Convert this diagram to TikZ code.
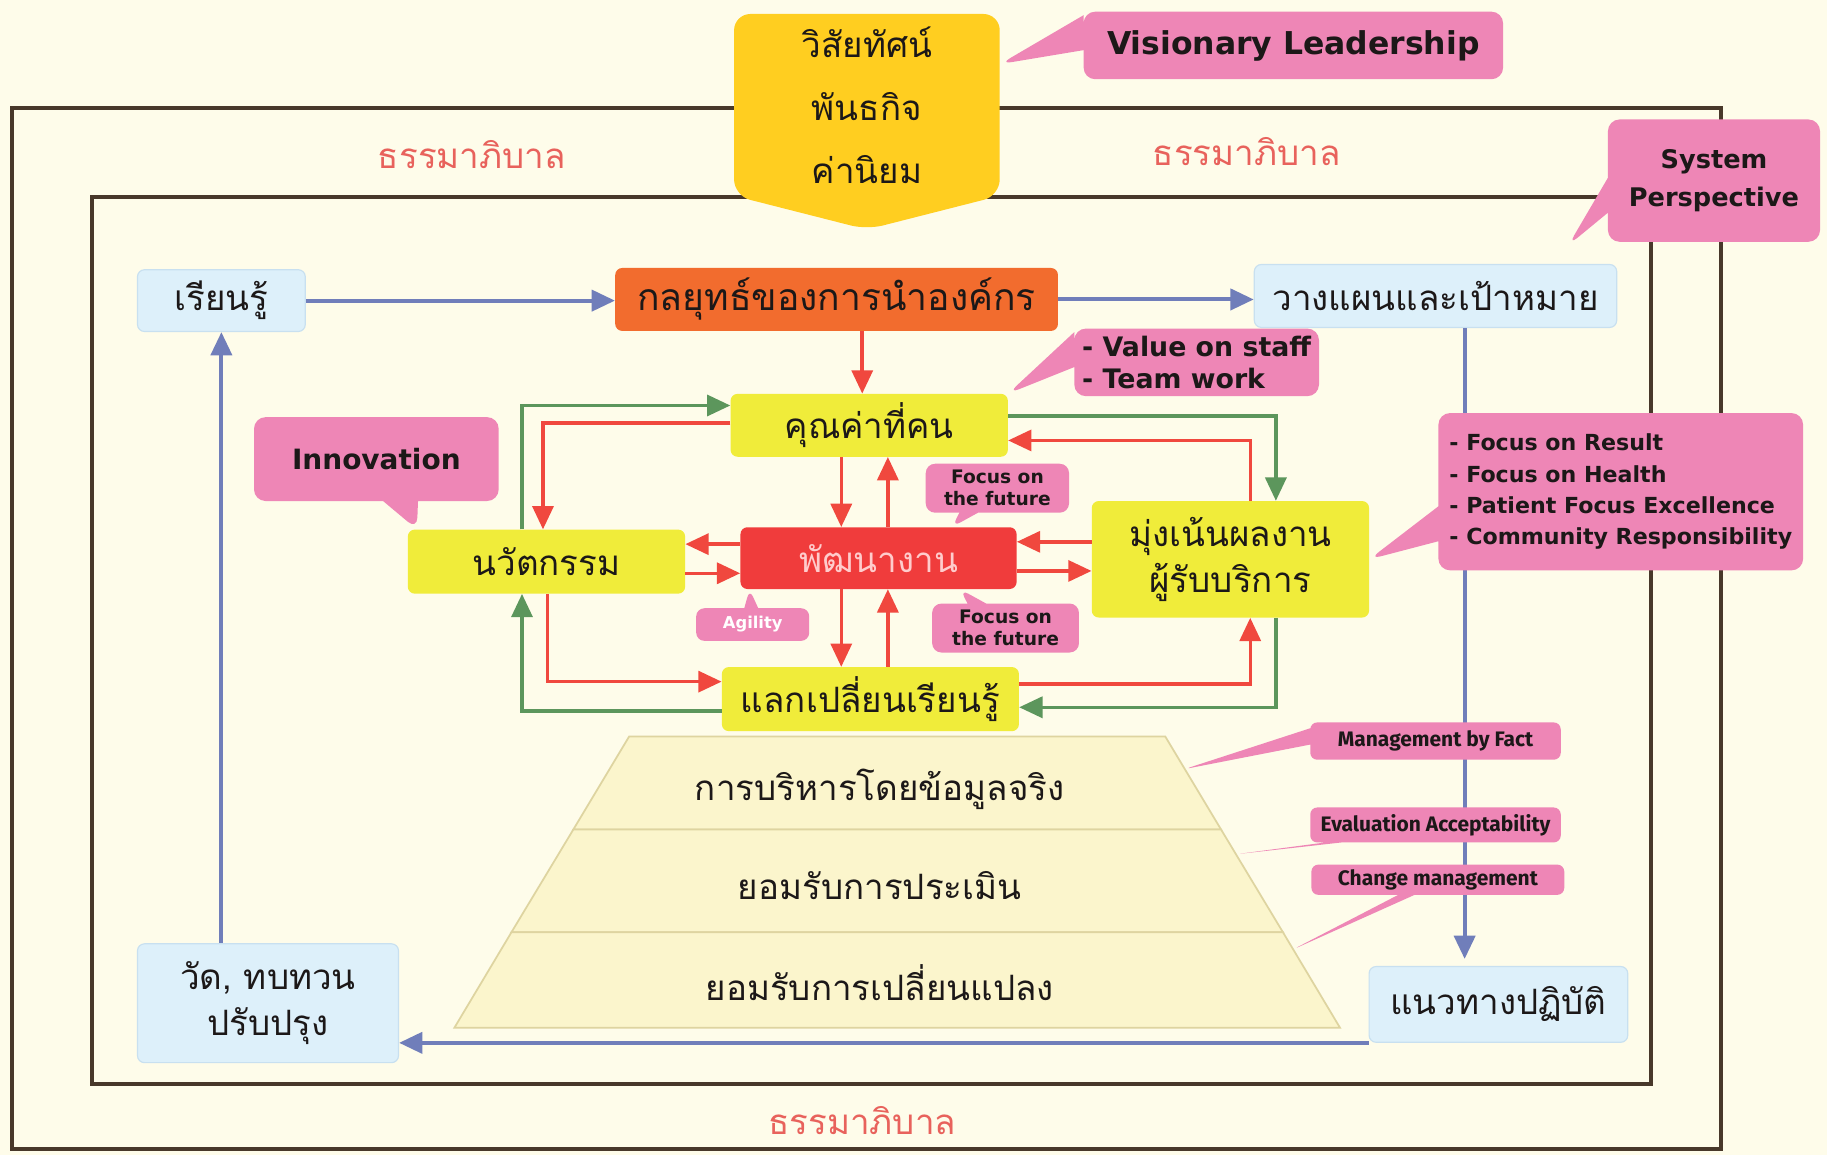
\documentclass[tikz,border=0pt]{standalone}
\usepackage{fontspec}
\setmainfont{Fira Sans}
\newfontfamily\thaifont[Script=Thai]{Loma}
\newfontfamily\notefont{DejaVu Sans}
\usetikzlibrary{arrows.meta,positioning,calc,shapes.callouts}
\definecolor{Cream}{RGB}{254,252,234}
\definecolor{FrameBrown}{RGB}{72,56,42}
\definecolor{GovRed}{RGB}{232,98,92}
\definecolor{Gold}{RGB}{255,206,32}
\definecolor{NotePink}{RGB}{238,134,182}
\definecolor{SkyFill}{RGB}{221,240,250}
\definecolor{SkyEdge}{RGB}{200,224,240}
\definecolor{StratOrange}{RGB}{242,108,46}
\definecolor{BoxYellow}{RGB}{240,236,58}
\definecolor{DevRed}{RGB}{240,60,60}
\definecolor{FlowBlue}{RGB}{112,126,186}
\definecolor{LoopGreen}{RGB}{92,150,92}
\definecolor{LoopRed}{RGB}{240,72,62}
\definecolor{PyrFill}{RGB}{251,245,204}
\definecolor{PyrEdge}{RGB}{222,212,160}
\definecolor{Ink}{RGB}{28,24,24}

\begin{document}
\begin{tikzpicture}[
  x=1pt, y=-1pt,
  thaibox/.style={rectangle, rounded corners=6pt, align=center, inner sep=0pt, text=Ink, font=\thaifont\fontsize{30}{40}\selectfont},
  skybox/.style={thaibox, fill=SkyFill, draw=SkyEdge, line width=1pt},
  yellowbox/.style={thaibox, fill=BoxYellow},
  pinknote/.style={rectangle callout, rounded corners=10pt, fill=NotePink, align=center, inner sep=0pt, text=Ink, callout pointer width=30pt},
  govtext/.style={text=GovRed, font=\thaifont\fontsize{30}{32}\selectfont},
  pyrtext/.style={text=Ink, font=\thaifont\fontsize{30}{36}\selectfont},
  frameline/.style={draw=FrameBrown, line width=3.5pt},
  bluearrow/.style={-{Triangle[length=20pt,width=18pt]}, line width=3.5pt, draw=FlowBlue},
  greenarrow/.style={-{Triangle[length=20pt,width=18pt]}, line width=3pt, draw=LoopGreen},
  redarrow/.style={-{Triangle[length=20pt,width=18pt]}, line width=3pt, draw=LoopRed},
]
\useasboundingbox (0,0) rectangle (1568,991);
\fill[Cream] (0,0) rectangle (1568,991);

% frames
\draw[frameline] (10,93) rectangle (1477,986);
\draw[frameline] (79,169) rectangle (1417,930);
\node[govtext] (gov1) at (405,133) {ธรรมาภิบาล};
\node[govtext] (gov2) at (1070,130) {ธรรมาภิบาล};
\node[govtext] (gov3) at (740,962) {ธรรมาภิบาล};

% vision
\fill[Gold, rounded corners=14pt] (630,12) -- (858,12) -- (858,168) -- (744,197) -- (630,168) -- cycle;
\node[align=center, text=Ink, minimum width=228pt, minimum height=156pt, font=\thaifont\fontsize{30}{54}\selectfont] (vision) at (744,90) {วิสัยทัศน์\\พันธกิจ\\ค่านิยม};

% main boxes
\node[skybox, minimum width=144pt, minimum height=53pt] (learn) at (190,258) {เรียนรู้};
\node[thaibox, fill=StratOrange, font=\thaifont\fontsize{32}{40}\selectfont, minimum width=380pt, minimum height=54pt] (strat) at (718,257) {กลยุทธ์ของการนำองค์กร};
\node[skybox, minimum width=311pt, minimum height=54pt] (plan) at (1232,254) {วางแผนและเป้าหมาย};
\node[yellowbox, minimum width=238pt, minimum height=54pt] (value) at (746,365) {คุณค่าที่คน};
\node[yellowbox, minimum width=238pt, minimum height=55pt] (innov) at (469,482) {นวัตกรรม};
\node[thaibox, fill=DevRed, text=red!20, minimum width=237pt, minimum height=53pt] (dev) at (754,479) {พัฒนางาน};
\node[yellowbox, minimum width=238pt, minimum height=100pt] (focus) at (1056,480) {มุ่งเน้นผลงาน\\ผู้รับบริการ};
\node[yellowbox, minimum width=255pt, minimum height=55pt] (share) at (747,600) {แลกเปลี่ยนเรียนรู้};
\node[skybox, minimum width=224pt, minimum height=102pt] (measure) at (230,861) {วัด, ทบทวน\\ปรับปรุง};
\node[skybox, minimum width=222pt, minimum height=65pt] (guide) at (1286,862) {แนวทางปฏิบัติ};

% outer cycle
\draw[bluearrow] (learn.east) -- (strat.west |- learn.east);
\draw[bluearrow] (strat.east) -- (plan.west |- strat.east);
\draw[bluearrow] ([xshift=25pt]plan.south) -- ([xshift=25pt,yshift=6pt]plan.south |- guide.north);
\draw[bluearrow] (guide.south west) -- (guide.south west -| measure.east);
\draw[bluearrow] (learn.south |- measure.north) -- (learn.south);
\draw[redarrow] ([xshift=-6pt]value.north |- strat.south) -- ([xshift=-6pt]value.north);

% pyramid
\coordinate (pa) at (540,632);
\coordinate (pb) at (1000,632);
\coordinate (pc) at (492,712);
\coordinate (pd) at (1048,712);
\coordinate (pe) at (439,800);
\coordinate (pf) at (1101,800);
\coordinate (pg) at (390,882);
\coordinate (ph) at (1150,882);
\filldraw[fill=PyrFill, draw=PyrEdge, line width=1.5pt] (pa) -- (pb) -- (pd) -- (pc) -- cycle;
\filldraw[fill=PyrFill, draw=PyrEdge, line width=1.5pt] (pc) -- (pd) -- (pf) -- (pe) -- cycle;
\filldraw[fill=PyrFill, draw=PyrEdge, line width=1.5pt] (pe) -- (pf) -- (ph) -- (pg) -- cycle;
\node[pyrtext] (fact) at (755,677) {การบริหารโดยข้อมูลจริง};
\node[pyrtext] (evaltext) at (755,760) {ยอมรับการประเมิน};
\node[pyrtext] (change) at (755,843) {ยอมรับการเปลี่ยนแปลง};

% notes
\node[pinknote, minimum width=360pt, minimum height=58pt, font=\notefont\bfseries\fontsize{27}{32}\selectfont,
  callout absolute pointer={([yshift=35pt]vision.east)}] (lead) at (1110,39) {Visionary Leadership};
\node[pinknote, minimum width=182pt, minimum height=105pt, font=\notefont\bfseries\fontsize{22}{33}\selectfont,
  callout absolute pointer={([xshift=-42pt,yshift=16pt]plan.north east)}] (sysp) at (1471,155) {System\\Perspective};
\node[pinknote, minimum width=210pt, minimum height=58pt, align=left, font=\notefont\bfseries\fontsize{23}{27}\selectfont,
  callout absolute pointer={(value.north east)}] (team) at (1027,311) {- Value on staff\\- Team work};
\node[pinknote, minimum width=313pt, minimum height=135pt, align=left, font=\notefont\bfseries\fontsize{19}{27}\selectfont,
  callout absolute pointer={(focus.east)}] (result) at (1391,422) {- Focus on Result\\- Focus on Health\\- Patient Focus Excellence\\- Community Responsibility};
\node[pinknote, minimum width=210pt, minimum height=72pt, font=\notefont\bfseries\fontsize{24}{26}\selectfont,
  callout absolute pointer={([xshift=8pt]innov.north west)}] (innonote) at (323,394) {Innovation};
\node[pinknote, minimum width=123pt, minimum height=42pt, rounded corners=8pt, callout pointer width=16pt, font=\notefont\bfseries\fontsize{16}{19}\selectfont,
  callout absolute pointer={([xshift=63pt]dev.north)}] (future1) at (856,419) {Focus on\\the future};
\node[pinknote, minimum width=126pt, minimum height=42pt, rounded corners=8pt, callout pointer width=16pt, font=\notefont\bfseries\fontsize{16}{19}\selectfont,
  callout absolute pointer={([xshift=70pt]dev.south)}] (future2) at (863,539) {Focus on\\the future};
\node[pinknote, minimum width=97pt, minimum height=28pt, rounded corners=7pt, callout pointer width=12pt, text=white, font=\notefont\bfseries\fontsize{14}{15}\selectfont,
  callout absolute pointer={([xshift=8pt]dev.south west)}] (agile) at (646,536) {Agility};
\node[pinknote, minimum width=215pt, minimum height=32pt, rounded corners=6pt, callout pointer width=14pt, font=\bfseries\fontsize{18}{20}\selectfont,
  callout absolute pointer={($(pb)!0.35!(pd)$)}] (mbf) at (1232,636) {Management by Fact};
\node[pinknote, minimum width=215pt, minimum height=30pt, rounded corners=6pt, callout pointer width=14pt, font=\bfseries\fontsize{18}{20}\selectfont,
  callout absolute pointer={($(pd)!0.24!(pf)$)}] (evalnote) at (1232,708) {Evaluation Acceptability};
\node[pinknote, minimum width=217pt, minimum height=26pt, rounded corners=6pt, callout pointer width=14pt, font=\bfseries\fontsize{18}{20}\selectfont,
  callout absolute pointer={($(pf)!0.18!(ph)$)}] (chg) at (1234,755) {Change management};

% green loop
\draw[greenarrow] ([xshift=-21pt]innov.north) |- ([yshift=17pt]value.west);
\draw[greenarrow] ([yshift=8pt]value.east) -| ([xshift=39pt]focus.north);
\draw[greenarrow] ([xshift=39pt]focus.south) |- ([yshift=-7pt]share.east);
\draw[greenarrow] ([yshift=-10pt]share.west) -| ([xshift=-21pt]innov.south);

% red loop
\draw[redarrow] ([yshift=2pt]value.west) -| ([xshift=-3pt]innov.north);
\draw[redarrow] ([xshift=1pt]innov.south) |- ([yshift=15pt]share.west);
\draw[redarrow] ([yshift=13pt]share.east) -| ([xshift=17pt]focus.south);
\draw[redarrow] ([xshift=17pt]focus.north) |- ([yshift=-13pt]value.east);

% around dev
\draw[redarrow] ([xshift=-32pt]dev.north |- value.south) -- ([xshift=-32pt]dev.north);
\draw[redarrow] ([xshift=8pt]dev.north) -- ([xshift=8pt]dev.north |- value.south);
\draw[redarrow] ([xshift=-32pt]dev.south) -- ([xshift=-32pt]dev.south |- share.north);
\draw[redarrow] ([xshift=8pt]dev.south |- share.north) -- ([xshift=8pt]dev.south);
\draw[redarrow] ([yshift=12pt]dev.west) -- ([yshift=12pt]dev.west -| innov.east);
\draw[redarrow] ([yshift=-13pt]dev.west -| innov.east) -- ([yshift=-13pt]dev.west);
\draw[redarrow] ([yshift=14pt]dev.east -| focus.west) -- ([yshift=14pt]dev.east);
\draw[redarrow] ([yshift=-11pt]dev.east) -- ([yshift=-11pt]dev.east -| focus.west);
\end{tikzpicture}
\end{document}
